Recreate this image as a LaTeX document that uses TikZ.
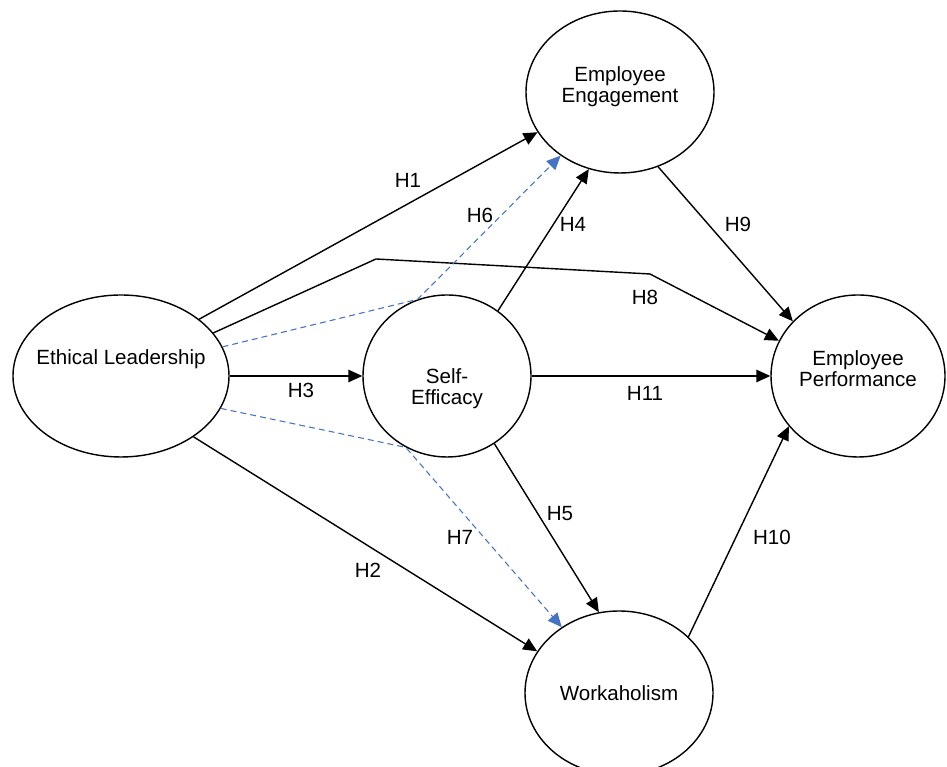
\documentclass[tikz,border=0pt]{standalone}
\usepackage{fontspec}
\setmainfont{Liberation Sans}
\usetikzlibrary{arrows.meta,shapes.geometric}
\definecolor{dashblue}{RGB}{68,114,196}

\begin{document}
\begin{tikzpicture}[
  font=\fontsize{11.7}{11.8}\selectfont,
  latent/.style={ellipse,draw,thick,inner sep=0pt},
  link/.style={thick,-{Triangle[length=0.28cm,width=0.25cm]}},
  indirect/.style={dashblue,semithick,dash pattern=on 3.4pt off 2.3pt,-{Triangle[length=0.28cm,width=0.25cm]}},
  hyp/.style={inner sep=1pt}]
  \useasboundingbox (0,0) rectangle (18.94,15.34);

  % constructs
  \node[latent,minimum width=4.32cm,minimum height=3.24cm,
        label={[yshift=0.34cm]center:Ethical Leadership}] (EL) at (2.42,7.82) {};
  \node[latent,minimum width=3.36cm,minimum height=3.24cm,
        label={[align=center,yshift=-0.26cm]center:Self-\\Efficacy}] (SE) at (8.94,7.82) {};
  \node[latent,minimum width=3.76cm,minimum height=3.24cm,
        label={[align=center,yshift=0.10cm]center:Employee\\Engagement}] (EE) at (12.40,13.50) {};
  \node[latent,minimum width=3.48cm,minimum height=3.24cm,
        label={[align=center,yshift=0.15cm]center:Employee\\Performance}] (EP) at (17.16,7.82) {};
  \node[latent,minimum width=3.76cm,minimum height=3.28cm,
        label={center:Workaholism}] (WA) at (12.38,1.48) {};

  % bends of H8
  \coordinate (h8a) at (7.52,10.16);
  \coordinate (h8b) at (13.00,9.86);

  % direct paths
  \draw[link] (EL.36) -- (EE.206);
  \draw[link] (EL.-40) -- (WA.153);
  \draw[link] (EL) -- (SE);
  \draw[link] (SE.52) -- (EE.248);
  \draw[link] (SE.-55) -- (WA.104);
  \draw[link] (EL.25) -- (h8a) -- (h8b) -- (EP.156);
  \draw[link] (EE.-63) -- (EP.140);
  \draw[link] (WA.39) -- (EP.216);
  \draw[link] (SE) -- (EP);

  % mediated paths
  \draw[indirect] (EL.16) -- (SE.111) -- (EE.227);
  \draw[indirect] (EL.-18) -- (SE.240) -- (WA.131);

  % hypotheses
  \node[hyp] (H1) at (8.16,11.74) {H1};
  \node[hyp] (H2) at (7.36,3.94) {H2};
  \node[hyp] (H3) at (6.02,7.54) {H3};
  \node[hyp] (H4) at (11.46,10.86) {H4};
  \node[hyp] (H5) at (11.20,5.06) {H5};
  \node[hyp] (H6) at (9.60,11.04) {H6};
  \node[hyp] (H7) at (9.20,4.60) {H7};
  \node[hyp] (H8) at (12.90,9.40) {H8};
  \node[hyp] (H9) at (14.76,10.86) {H9};
  \node[hyp] (H10) at (15.44,4.60) {H10};
  \node[hyp] (H11) at (12.90,7.48) {H11};
\end{tikzpicture}
\end{document}
